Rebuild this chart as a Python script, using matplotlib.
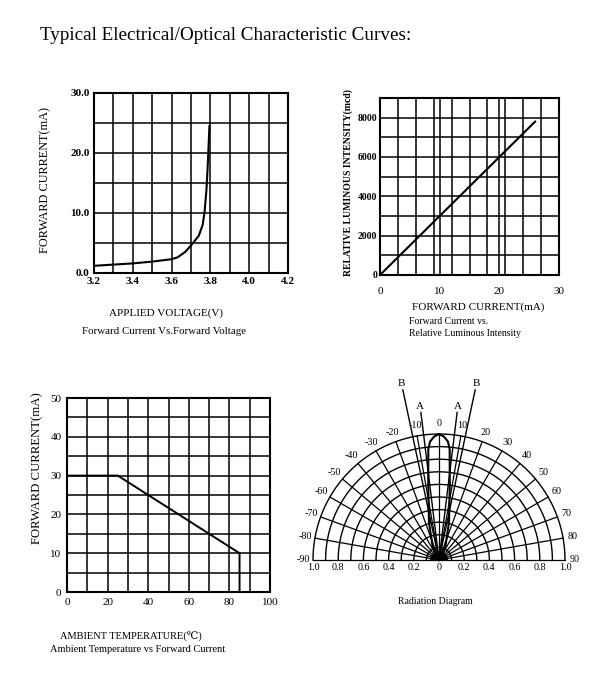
import numpy as np
import matplotlib
matplotlib.use("Agg")
import matplotlib.pyplot as plt
from matplotlib.ticker import MultipleLocator

# ---------------- data ----------------
# Forward current vs forward voltage
fv_voltage = [3.20, 3.40, 3.50, 3.60, 3.63, 3.67, 3.70, 3.74, 3.76, 3.77, 3.78, 3.787, 3.795]
fv_current = [1.2, 1.6, 1.9, 2.3, 2.6, 3.5, 4.6, 6.2, 8.0, 10.2, 14.0, 18.4, 24.5]
fv_xticks = [3.2, 3.4, 3.6, 3.8, 4.0, 4.2]
fv_xticklabels = ["3.2", "3.4", "3.6", "3.8", "4.0", "4.2"]
fv_yticks = [0, 10, 20, 30]
fv_yticklabels = ["0.0", "10.0", "20.0", "30.0"]

# Relative luminous intensity vs forward current
li_current = [0, 26]
li_intensity = [0, 7800]
li_xticks = [0, 10, 20, 30]
li_yticks = [0, 2000, 4000, 6000, 8000]

# Derating: ambient temperature vs forward current
dr_temp = [0, 25, 85, 85]
dr_current = [30, 30, 10, 0]
dr_xticks = [0, 20, 40, 60, 80, 100]
dr_yticks = [0, 10, 20, 30, 40, 50]

# Radiation diagram
rad_angles = list(range(-90, 91, 10))
rad_rings = [0.1, 0.2, 0.3, 0.4, 0.5, 0.6, 0.7, 0.8, 0.9, 1.0]
rad_xticks = [-1.0, -0.8, -0.6, -0.4, -0.2, 0.0, 0.2, 0.4, 0.6, 0.8, 1.0]
rad_xticklabels = ["1.0", "0.8", "0.6", "0.4", "0.2", "0", "0.2", "0.4", "0.6", "0.8", "1.0"]
lobe_angle = [-90, -26.6, -14.9, -8.1, -5.5, -4.3, -2.3, 0, 2.3, 4.3, 5.5, 8.1, 14.9, 26.6, 90]
lobe_rel = [0.0, 0.11, 0.31, 0.606, 0.884, 0.943, 0.98, 1.0, 0.98, 0.943, 0.884, 0.606, 0.31, 0.11, 0.0]
ab_names = ["A", "A", "B", "B"]
ab_angle = [-7, 7, -12, 12]
ab_length = [1.18, 1.18, 1.38, 1.38]

# ---------------- style ----------------
SERIF = ["Liberation Serif", "DejaVu Serif", "DejaVu Sans"]
plt.rcParams["font.family"] = SERIF
plt.rcParams["font.size"] = 8

W, H = 605, 680
fig = plt.figure(figsize=(W / 100, H / 100), dpi=100)


def box(l, t, r, b):
    return [l / W, 1 - b / H, (r - l) / W, (b - t) / H]


def px(x, y):
    return x / W, 1 - y / H


def style_grid(ax):
    ax.grid(True, which="both", color="black", linewidth=1.1)
    ax.set_axisbelow(False)
    for s in ax.spines.values():
        s.set_linewidth(1.5)
        s.set_color("black")
    ax.tick_params(which="both", length=0)


# ---- top-left: forward current vs voltage ----
ax1 = fig.add_axes(box(94, 93, 288, 273))
ax1.set_xlim(3.2, 4.2)
ax1.set_ylim(0, 30)
ax1.set_xticks(fv_xticks)
ax1.set_xticklabels(fv_xticklabels, fontweight="bold")
ax1.set_yticks(fv_yticks)
ax1.set_yticklabels(fv_yticklabels, fontweight="bold")
ax1.xaxis.set_minor_locator(MultipleLocator(0.1))
ax1.yaxis.set_minor_locator(MultipleLocator(5))
style_grid(ax1)
ax1.tick_params(axis="x", pad=3, labelsize=8)
ax1.tick_params(axis="y", pad=3, labelsize=8)
ax1.plot(fv_voltage, fv_current, color="black", linewidth=1.5)
fig.text(*px(45, 180), "FORWARD CURRENT(mA)", rotation=90, ha="center", va="center", fontsize=8.8)
fig.text(*px(166, 313), "APPLIED VOLTAGE(V)", ha="center", va="center", fontsize=8)
fig.text(*px(164, 331), "Forward Current Vs.Forward Voltage", ha="center", va="center", fontsize=7.8)

# ---- top-right: luminous intensity vs current ----
ax2 = fig.add_axes(box(380, 98, 559, 275))
ax2.set_xlim(0, 30)
ax2.set_ylim(0, 9000)
ax2.set_xticks(li_xticks)
ax2.set_yticks(li_yticks)
ax2.set_yticklabels([str(v) for v in li_yticks], fontweight="bold")
ax2.xaxis.set_minor_locator(MultipleLocator(3))
ax2.yaxis.set_minor_locator(MultipleLocator(1000))
style_grid(ax2)
ax2.tick_params(axis="x", pad=9, labelsize=8)
ax2.tick_params(axis="y", pad=2, labelsize=7)
ax2.plot(li_current, li_intensity, color="black", linewidth=1.5)
fig.text(*px(348, 183), "RELATIVE LUMINOUS INTENSITY(mcd)", rotation=90, ha="center", va="center",
         fontsize=7, fontweight="bold")
fig.text(*px(478, 307), "FORWARD CURRENT(mA)", ha="center", va="center", fontsize=8)
fig.text(*px(409, 321), "Forward Current vs.", ha="left", va="center", fontsize=7)
fig.text(*px(409, 333), "Relative Luminous Intensity", ha="left", va="center", fontsize=7)

# ---- bottom-left: derating ----
ax3 = fig.add_axes(box(67, 398, 270, 592))
ax3.set_xlim(0, 100)
ax3.set_ylim(0, 50)
ax3.set_xticks(dr_xticks)
ax3.set_yticks(dr_yticks)
ax3.xaxis.set_minor_locator(MultipleLocator(10))
ax3.yaxis.set_minor_locator(MultipleLocator(5))
style_grid(ax3)
ax3.tick_params(axis="both", pad=4, labelsize=8)
ax3.plot(dr_temp, dr_current, color="black", linewidth=1.4)
fig.text(*px(37, 468), "FORWARD CURRENT(mA)", rotation=90, ha="center", va="center", fontsize=9.2)
fig.text(*px(131, 637), "AMBIENT TEMPERATURE(\u2103)", ha="center", va="center", fontsize=7.5)
fig.text(*px(138, 649), "Ambient Temperature vs Forward Current", ha="center", va="center", fontsize=7.5)

# ---- bottom-right: radiation diagram ----
ax4 = fig.add_axes(box(313, 434, 565, 560))
ax4.set_xlim(-1, 1)
ax4.set_ylim(0, 1)
for s in ax4.spines.values():
    s.set_visible(False)
ax4.set_yticks([])
ax4.set_xticks(rad_xticks)
ax4.set_xticklabels(rad_xticklabels)
ax4.tick_params(axis="x", length=0, pad=2, labelsize=7.3)

th = np.radians(np.linspace(-90, 90, 361))
for r in rad_rings:
    ax4.plot(r * np.sin(th), r * np.cos(th), color="black", linewidth=1.0, clip_on=False)
for a in rad_angles:
    t = np.radians(a)
    ax4.plot([0, np.sin(t)], [0, np.cos(t)], color="black", linewidth=0.9, clip_on=False)
    lab_r = 1.08
    ax4.text(lab_r * np.sin(t), lab_r * np.cos(t), str(a), ha="center", va="center",
             fontsize=7.3, clip_on=False)

# central blob
blob = np.radians(np.linspace(-90, 90, 61))
ax4.fill(np.concatenate([[0], 0.065 * np.sin(blob)]), np.concatenate([[0], 0.065 * np.cos(blob)]),
         color="black", clip_on=False)

# lobe
la = np.radians(lobe_angle)
lr = np.array(lobe_rel)
ax4.plot(lr * np.sin(la), lr * np.cos(la), color="black", linewidth=1.5, clip_on=False)

# A / B lines
for name, a, L in zip(ab_names, ab_angle, ab_length):
    t = np.radians(a)
    ax4.plot([0, L * np.sin(t)], [0, L * np.cos(t)], color="black", linewidth=1.0, clip_on=False)
    ax4.text((L + 0.05) * np.sin(t), (L + 0.05) * np.cos(t), name, ha="center", va="center",
             fontsize=8, clip_on=False)

fig.text(*px(435, 602), "Radiation Diagram", ha="center", va="center", fontsize=7)

# ---- main title ----
fig.text(*px(40, 36), "Typical Electrical/Optical Characteristic Curves:", ha="left", va="center",
         fontsize=13.8)

fig.savefig("out.png", dpi=100, facecolor="white")
